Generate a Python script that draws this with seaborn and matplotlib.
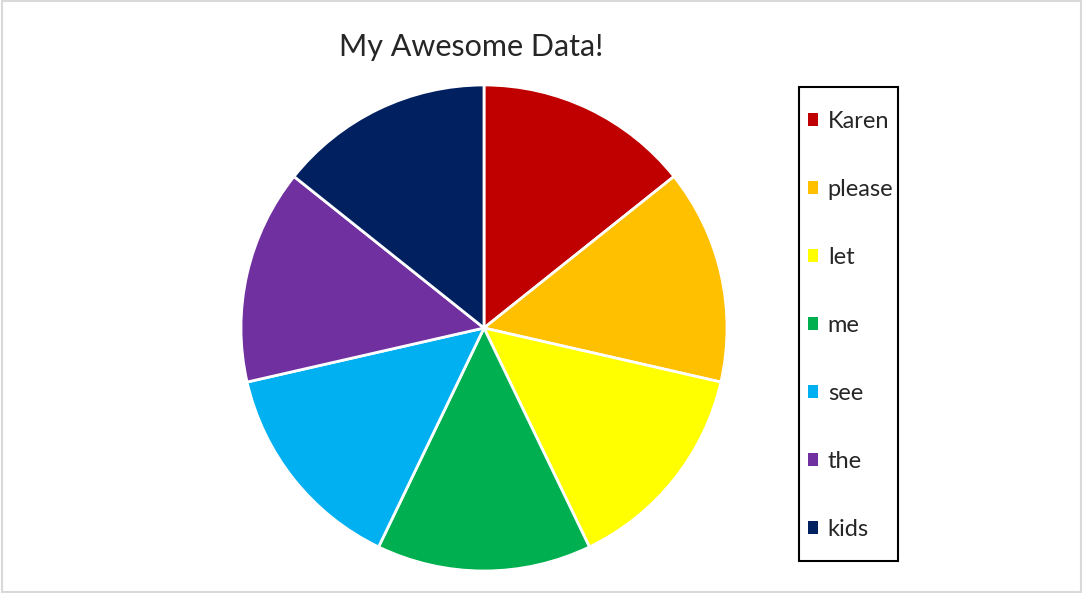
import numpy as np
import seaborn as sns
import matplotlib.pyplot as plt
from matplotlib.patches import Patch, Rectangle

sns.set_style('white')
plt.rcParams['font.family'] = ['Lato', 'DejaVu Sans']

# data
names = ['Karen', 'please', 'let', 'me', 'see', 'the', 'kids']
values = [1, 1, 1, 1, 1, 1, 1]
colors = ['#C00000', '#FFC000', '#FFFF00', '#00B050', '#00B0F0', '#7030A0', '#002060']

fig = plt.figure(figsize=(10.83, 5.93), dpi=100)
ax = fig.add_axes([0.2225, 0.0371, 0.4488, 0.8196])
ax.pie(values, colors=colors, startangle=90, counterclock=False, radius=1,
       wedgeprops=dict(edgecolor='white', linewidth=2))
ax.set_xlim(-1.0, 1.0)
ax.set_ylim(-1.0, 1.0)
ax.set_aspect('equal')
ax.axis('off')

fig.text(0.435, 0.92, 'My Awesome Data!', ha='center', va='center', fontsize=22)

handles = [Patch(facecolor=c, edgecolor='none') for c in colors]
leg = fig.legend(handles, names, loc='upper left', bbox_to_anchor=(0.746, 0.813),
                 fontsize=17, frameon=False, labelspacing=1.99,
                 handlelength=0.44, handleheight=0.44, handletextpad=0.4,
                 borderpad=0, borderaxespad=0)

# legend frame
fig.patches.append(Rectangle((0.7378, 0.054), 0.0914, 0.7993, transform=fig.transFigure,
                             fill=False, edgecolor='black', linewidth=1.5))

# light chart-area border
fig.patches.append(Rectangle((0.002, 0.002), 0.996, 0.996, transform=fig.transFigure,
                             fill=False, edgecolor='#D9D9D9', linewidth=1.5))

plt.savefig('out.png', dpi=100)
